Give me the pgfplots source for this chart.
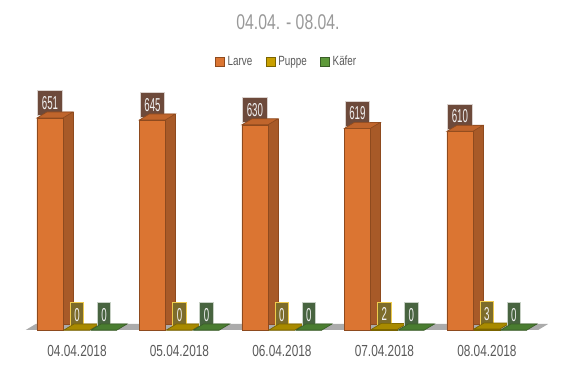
\documentclass[border=0pt]{standalone}
\usepackage{fontspec}
\setmainfont{Liberation Sans}
\newfontfamily\cond[FakeStretch=0.52]{Liberation Sans}
\newfontfamily\condw[FakeStretch=0.74]{Liberation Sans}
\usepackage{pgfplots}
\pgfplotsset{compat=1.18}
\definecolor{orF}{HTML}{DB7532}
\definecolor{orS}{HTML}{A85A28}
\definecolor{orT}{HTML}{C0652C}
\definecolor{orE}{HTML}{8E4A1E}
\definecolor{yeF}{HTML}{C9A000}
\definecolor{yeS}{HTML}{8F7400}
\definecolor{yeT}{HTML}{A88A00}
\definecolor{yeE}{HTML}{7A6400}
\definecolor{yeL}{HTML}{E8B400}
\definecolor{grF}{HTML}{5E9A3A}
\definecolor{grS}{HTML}{3F6E2A}
\definecolor{grT}{HTML}{4A7D30}
\definecolor{grE}{HTML}{3A5E28}
\definecolor{flo}{HTML}{ABABAB}
\definecolor{lbO}{HTML}{6D4A3B}
\definecolor{lbY}{HTML}{7D6C2A}
\definecolor{lbG}{HTML}{486440}
\pgfdeclareplotmark{topface}{%
  \pgfpathmoveto{\pgfpoint{-9.75pt}{0pt}}%
  \pgfpathlineto{\pgfpoint{9.75pt}{0pt}}%
  \pgfpathlineto{\pgfpoint{17.25pt}{4.5pt}}%
  \pgfpathlineto{\pgfpoint{-2.25pt}{4.5pt}}%
  \pgfpathclose\pgfusepathqfillstroke}
\begin{document}
\begin{tikzpicture}
\begin{axis}[
  at={(19.3pt,-247.5pt)}, anchor=south west,
  scale only axis, width=392pt, height=171pt,
  xmin=-0.5, xmax=4.6, ymin=0, ymax=700,
  axis line style={draw=none}, tick style={draw=none},
  ytick=\empty,
  /pgf/number format/assume math mode=true,
  xtick={0,1,2,3,4},
  xticklabels={04.04.2018,05.04.2018,06.04.2018,07.04.2018,08.04.2018},
  xticklabel style={font=\condw\fontsize{12}{12}\selectfont, text=black!65, yshift=-8pt},
  clip=false,
  legend style={at={(0.5,1.175)}, anchor=center, draw=none, fill=none,
    legend columns=-1, font=\condw\fontsize{10}{10}\selectfont, text=black!65,
    /tikz/every even column/.append style={column sep=8pt}},
  legend image code/.code={\draw[#1,line width=0.8pt] (0pt,-3.3pt) rectangle (6.6pt,3.3pt);},
  nodes near coords,
  every node near coord/.append style={font=\cond\fontsize{14}{14}\selectfont,
    text=white!94!black, inner xsep=3pt, inner ysep=2pt, minimum height=18.75pt, anchor=south, yshift=1.5pt,
    line width=0.6pt},
]
\fill[flo] (axis cs:-0.5,0) -- (axis cs:4.5,0) -- ([xshift=7.5pt,yshift=4.5pt]axis cs:4.5,0) -- ([xshift=7.5pt,yshift=4.5pt]axis cs:-0.5,0) -- cycle;
% Larve
\addplot[ybar, bar width=19.5pt, bar shift=-12.75pt, yshift=4.5pt, fill=orS, draw=orE, forget plot, nodes near coords=\empty]
  coordinates {(0,651) (1,645) (2,630) (3,619) (4,610)};
\addplot[ybar, bar width=19.5pt, bar shift=-20.25pt, fill=orF, draw=orE,
  every node near coord/.append style={fill=lbO, draw=white!75!lbO, xshift=-20.25pt}]
  coordinates {(0,651) (1,645) (2,630) (3,619) (4,610)};
\addlegendentry{Larve}
\addplot[only marks, mark=topface, forget plot, nodes near coords=\empty, mark options={xshift=-20.25pt, fill=orT, draw=orE, line width=0.5pt}]
  coordinates {(0,651) (1,645) (2,630) (3,619) (4,610)};
% Puppe
\addplot[ybar, bar width=19.5pt, bar shift=7.5pt, yshift=4.5pt, fill=yeS, draw=yeE, forget plot, nodes near coords=\empty]
  coordinates {(0,0) (1,0) (2,0) (3,2) (4,3)};
\addplot[ybar, bar width=19.5pt, bar shift=0pt, fill=yeF, draw=yeE,
  every node near coord/.append style={fill=lbY, draw=yeL!70!white}]
  coordinates {(0,0) (1,0) (2,0) (3,2) (4,3)};
\addlegendentry{Puppe}
\addplot[only marks, mark=topface, forget plot, nodes near coords=\empty, mark options={fill=yeT, draw=yeE, line width=0.5pt}]
  coordinates {(0,0) (1,0) (2,0) (3,2) (4,3)};
% Kaefer
\addplot[ybar, bar width=19.5pt, bar shift=27.75pt, yshift=4.5pt, fill=grS, draw=grE, forget plot, nodes near coords=\empty]
  coordinates {(0,0) (1,0) (2,0) (3,0) (4,0)};
\addplot[ybar, bar width=19.5pt, bar shift=20.25pt, fill=grF, draw=grE,
  every node near coord/.append style={fill=lbG, draw=white!70!lbG, xshift=20.25pt}]
  coordinates {(0,0) (1,0) (2,0) (3,0) (4,0)};
\addlegendentry{Käfer}
\addplot[only marks, mark=topface, forget plot, nodes near coords=\empty, mark options={xshift=20.25pt, fill=grT, draw=grE, line width=0.5pt}]
  coordinates {(0,0) (1,0) (2,0) (3,0) (4,0)};
\end{axis}
\node[font=\condw\fontsize{16}{16}\selectfont, text=black!40] at (216pt,-16.5pt) {04.04. - 08.04.};
\pgfresetboundingbox
\path (0,0) rectangle (432pt,-282.75pt);
\end{tikzpicture}
\end{document}
